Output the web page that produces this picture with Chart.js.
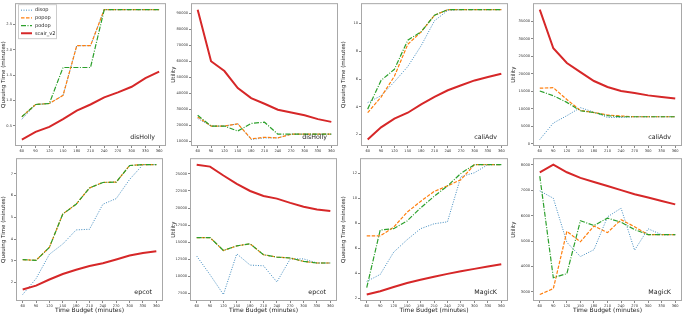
<!DOCTYPE html>
<html>
<head>
<meta charset="utf-8">
<script src="https://cdn.jsdelivr.net/npm/chart.js@4"></script>
<style>
    html, body { margin: 0; padding: 0; background: #fff; }
    #wrap { position: relative; width: 685px; height: 315px; overflow: hidden; }
    #wrap canvas { position: absolute; }
</style>
</head>
<body>
<div id="wrap"></div>
<script>
const timeBudget = [60, 90, 120, 150, 180, 210, 240, 270, 300, 330, 360];
const seriesNames = ['disop', 'popop', 'podop', 'scair_v2'];

// disHolly
const hollyQueueDisop = [0.63, 0.92, 0.94, 1.10, 2.08, 2.08, 2.79, 2.79, 2.79, 2.79, 2.79];
const hollyQueuePopop = [0.68, 0.92, 0.94, 1.10, 2.08, 2.08, 2.79, 2.79, 2.79, 2.79, 2.79];
const hollyQueuePodop = [0.68, 0.92, 0.94, 1.65, 1.65, 1.65, 2.79, 2.79, 2.79, 2.79, 2.79];
const hollyQueueScair = [0.23, 0.38, 0.48, 0.63, 0.80, 0.92, 1.06, 1.16, 1.27, 1.44, 1.57];
const hollyUtilDisop = [24300, 19600, 19600, 21000, 11200, 12200, 12200, 14500, 14500, 14500, 14500];
const hollyUtilPopop = [25300, 19600, 19600, 21000, 11600, 12600, 12200, 14500, 14500, 14500, 14500];
const hollyUtilPodop = [26300, 19600, 19600, 16500, 21200, 22000, 14500, 14500, 14500, 14500, 14500];
const hollyUtilScair = [92200, 60000, 53900, 43300, 37000, 33500, 29800, 28000, 26300, 23900, 22200];

// caliAdv
const caliQueueDisop = [4.3, 4.8, 5.8, 6.9, 8.4, 10.2, 10.95, 11.0, 11.0, 11.0, 11.0];
const caliQueuePopop = [3.57, 4.7, 6.2, 8.5, 9.4, 10.6, 11.0, 11.0, 11.0, 11.0, 11.0];
const caliQueuePodop = [3.83, 5.9, 6.7, 8.8, 9.4, 10.6, 11.0, 11.0, 11.0, 11.0, 11.0];
const caliQueueScair = [1.64, 2.52, 3.14, 3.57, 4.17, 4.71, 5.19, 5.55, 5.9, 6.14, 6.38];
const caliUtilDisop = [1200, 5900, 8000, 10300, 9000, 7500, 7500, 7700, 7700, 7700, 7700];
const caliUtilPopop = [15840, 16000, 12600, 9500, 8900, 8200, 7900, 7700, 7700, 7700, 7700];
const caliUtilPodop = [15050, 13700, 11800, 9400, 8900, 8000, 7700, 7700, 7700, 7700, 7700];
const caliUtilScair = [38270, 27240, 23040, 20420, 17900, 16200, 15050, 14500, 13800, 13350, 12900];

// epcot
const epcotQueueDisop = [1.45, 2.18, 3.3, 3.77, 4.42, 4.45, 5.6, 5.86, 6.74, 7.42, 7.42];
const epcotQueuePopop = [3.05, 3.02, 3.62, 5.15, 5.6, 6.35, 6.6, 6.62, 7.38, 7.42, 7.42];
const epcotQueuePodop = [3.05, 3.02, 3.62, 5.15, 5.6, 6.35, 6.6, 6.62, 7.38, 7.42, 7.42];
const epcotQueueScair = [1.68, 1.86, 2.14, 2.39, 2.59, 2.76, 2.89, 3.06, 3.24, 3.36, 3.44];
const epcotUtilDisop = [12980, 10240, 7350, 13300, 11650, 11550, 9180, 12560, 12560, 11960, 11960];
const epcotUtilPopop = [15680, 15680, 13790, 14470, 14760, 13170, 12830, 12690, 12200, 11960, 11960];
const epcotUtilPodop = [15680, 15680, 13790, 14470, 14760, 13170, 12830, 12690, 12200, 11960, 11960];
const epcotUtilScair = [26350, 26060, 24760, 23550, 22500, 21770, 21380, 20760, 20190, 19800, 19560];

// MagicK
const magicQueueDisop = [3.37, 3.92, 5.7, 6.7, 7.58, 7.97, 8.13, 11.74, 12.05, 12.7, 12.7];
const magicQueuePopop = [7.0, 7.0, 7.7, 8.9, 9.76, 10.55, 11.0, 11.5, 12.7, 12.7, 12.7];
const magicQueuePodop = [2.87, 7.47, 7.58, 8.2, 9.24, 10.16, 11.0, 12.0, 12.7, 12.7, 12.7];
const magicQueueScair = [2.32, 2.58, 2.92, 3.24, 3.5, 3.74, 3.97, 4.18, 4.37, 4.55, 4.74];
const magicUtilDisop = [6970, 6680, 4950, 4390, 4660, 5950, 6290, 4640, 5480, 5250, 5250];
const magicUtilPopop = [2900, 3130, 5380, 4970, 5590, 5330, 5840, 5560, 5250, 5250, 5250];
const magicUtilPodop = [7550, 3560, 3720, 5800, 5610, 5900, 5740, 5450, 5250, 5250, 5250];
const magicUtilScair = [7700, 8000, 7700, 7480, 7320, 7160, 7000, 6840, 6710, 6570, 6440];

// y tick labels
const hollyQueueTicks = [0.5, 1.0, 1.5, 2.0, 2.5];
const hollyUtilTicks = [10000, 20000, 30000, 40000, 50000, 60000, 70000, 80000, 90000];
const caliQueueTicks = [2, 4, 6, 8, 10];
const caliUtilTicks = [0, 5000, 10000, 15000, 20000, 25000, 30000, 35000];
const epcotQueueTicks = [2, 3, 4, 5, 6, 7];
const epcotUtilTicks = [7500, 10000, 12500, 15000, 17500, 20000, 22500, 25000];
const magicQueueTicks = [2, 4, 6, 8, 10, 12];
const magicUtilTicks = [3000, 4000, 5000, 6000, 7000, 8000];

const colors = ['rgba(31,119,180,0.85)', '#ff7f0e', '#2ca02c', '#d62728'];
const widths = [1, 1.2, 1.2, 2];
const dashes = [[1, 1.5], [3.5, 1.5], [5, 1.5, 1, 1.5], []];
const FONT = '"DejaVu Sans", sans-serif';

const panelPlugin = {
    id: 'panel',
    afterDraw(chart, args, opts) {
        const { ctx, chartArea: a } = chart;
        ctx.save();
        ctx.strokeStyle = '#a8a8a8';
        ctx.lineWidth = 1;
        ctx.strokeRect(a.left + 0.5, a.top + 0.5, a.right - a.left - 1, a.bottom - a.top - 1);

        ctx.fillStyle = '#222';
        ctx.font = '6.3px ' + FONT;
        ctx.textAlign = 'right';
        ctx.textBaseline = 'middle';
        ctx.fillText(opts.text, a.right - 11, a.bottom - 9);

        if (opts.legend) {
            const x0 = a.left + 3, y0 = a.top + 1;
            ctx.fillStyle = 'rgba(255,255,255,0.85)';
            ctx.fillRect(x0, y0, 38, 34);
            ctx.strokeStyle = '#ccc';
            ctx.strokeRect(x0 + 0.5, y0 + 0.5, 38, 34);
            chart.data.datasets.forEach((ds, i) => {
                const yy = y0 + 6 + i * 7.7;
                ctx.beginPath();
                ctx.setLineDash(ds.borderDash);
                ctx.strokeStyle = ds.borderColor;
                ctx.lineWidth = ds.borderWidth;
                ctx.moveTo(x0 + 3, yy);
                ctx.lineTo(x0 + 14, yy);
                ctx.stroke();
                ctx.setLineDash([]);
                ctx.fillStyle = '#222';
                ctx.font = '5px ' + FONT;
                ctx.textAlign = 'left';
                ctx.fillText(ds.label, x0 + 17, yy);
            });
        }
        ctx.restore();
    }
};

const panels = [
    { series: [hollyQueueDisop, hollyQueuePopop, hollyQueuePodop, hollyQueueScair], ticks: hollyQueueTicks, yTitle: 'Queuing Time (minutes)', text: 'disHolly', legend: true, dec: 1,
      box: [0, 0, 170, 155], area: [15, 166, 1, 146] },
    { series: [hollyUtilDisop, hollyUtilPopop, hollyUtilPodop, hollyUtilScair], ticks: hollyUtilTicks, yTitle: 'Utility', text: 'disHolly', dec: 0,
      box: [170, 0, 170, 155], area: [191, 338, 1, 146] },
    { series: [caliQueueDisop, caliQueuePopop, caliQueuePodop, caliQueueScair], ticks: caliQueueTicks, yTitle: 'Queuing Time (minutes)', text: 'caliAdv', dec: 0,
      box: [340, 0, 170, 155], area: [361, 508, 1, 146] },
    { series: [caliUtilDisop, caliUtilPopop, caliUtilPodop, caliUtilScair], ticks: caliUtilTicks, yTitle: 'Utility', text: 'caliAdv', dec: 0,
      box: [510, 0, 175, 155], area: [533, 682, 1, 146] },
    { series: [epcotQueueDisop, epcotQueuePopop, epcotQueuePodop, epcotQueueScair], ticks: epcotQueueTicks, yTitle: 'Queuing Time (minutes)', text: 'epcot', dec: 0, xTitle: true,
      box: [0, 155, 170, 160], area: [16, 163, 157, 301] },
    { series: [epcotUtilDisop, epcotUtilPopop, epcotUtilPodop, epcotUtilScair], ticks: epcotUtilTicks, yTitle: 'Utility', text: 'epcot', dec: 0, xTitle: true,
      box: [170, 155, 170, 160], area: [190, 337, 157, 301] },
    { series: [magicQueueDisop, magicQueuePopop, magicQueuePodop, magicQueueScair], ticks: magicQueueTicks, yTitle: 'Queuing Time (minutes)', text: 'MagicK', dec: 0, xTitle: true,
      box: [340, 155, 170, 160], area: [360, 508, 157, 301] },
    { series: [magicUtilDisop, magicUtilPopop, magicUtilPodop, magicUtilScair], ticks: magicUtilTicks, yTitle: 'Utility', text: 'MagicK', dec: 0, xTitle: true,
      box: [510, 155, 175, 160], area: [533, 682, 157, 301] }
];

const wrap = document.getElementById('wrap');

panels.forEach(p => {
    const [bx, by, bw, bh] = p.box;
    const [al, ar, at, ab] = p.area;
    const canvas = document.createElement('canvas');
    canvas.width = bw;
    canvas.height = bh;
    canvas.style.left = bx + 'px';
    canvas.style.top = by + 'px';
    wrap.appendChild(canvas);

    const all = p.series.flat();
    const lo = Math.min(...all), hi = Math.max(...all);
    const margin = (hi - lo) * 0.05;

    new Chart(canvas, {
        type: 'line',
        data: {
            datasets: seriesNames.map((name, i) => ({
                label: name,
                data: timeBudget.map((t, j) => ({ x: t, y: p.series[i][j] })),
                borderColor: colors[i],
                borderWidth: widths[i],
                borderDash: dashes[i],
                pointRadius: 0,
                fill: false,
                tension: 0,
                order: 4 - i
            }))
        },
        options: {
            responsive: false,
            animation: false,
            devicePixelRatio: 1,
            layout: { padding: { left: 0, right: bx + bw - ar, top: at - by, bottom: 0 } },
            plugins: {
                legend: { display: false },
                tooltip: { enabled: false },
                panel: { text: p.text, legend: !!p.legend }
            },
            scales: {
                x: {
                    type: 'linear',
                    min: 45,
                    max: 375,
                    afterBuildTicks: s => { s.ticks = timeBudget.map(v => ({ value: v })); },
                    afterFit: s => { s.height = by + bh - ab; },
                    border: { display: false },
                    grid: { drawOnChartArea: false, tickLength: 2, color: '#888' },
                    ticks: { font: { family: FONT, size: 3.6 }, color: '#333', padding: 1, maxRotation: 0, autoSkip: false },
                    title: { display: !!p.xTitle, text: 'Time Budget (minutes)', color: '#222', font: { family: FONT, size: 6 }, padding: { top: 0, bottom: 1 } }
                },
                y: {
                    min: lo - margin,
                    max: hi + margin,
                    afterBuildTicks: s => { s.ticks = p.ticks.map(v => ({ value: v })); },
                    afterFit: s => { s.width = al - bx; },
                    border: { display: false },
                    grid: { drawOnChartArea: false, tickLength: 2, color: '#888' },
                    ticks: { font: { family: FONT, size: 3.6 }, color: '#333', padding: 1, callback: v => v.toFixed(p.dec) },
                    title: { display: true, text: p.yTitle, color: '#222', font: { family: FONT, size: 5.5 }, padding: { top: 0, bottom: 0 } }
                }
            }
        },
        plugins: [panelPlugin]
    });
});
</script>
</body>
</html>
